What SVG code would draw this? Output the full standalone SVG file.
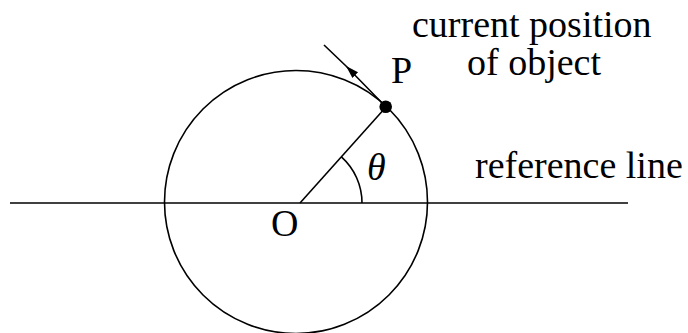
<svg xmlns="http://www.w3.org/2000/svg" width="688" height="333" viewBox="0 0 688 333">
  <style>
    .ln { fill: none; stroke: #000; stroke-width: 1.6; }
    .lbl { font-family: "Liberation Serif", "Times New Roman", serif; font-size: 38px; fill: #000; }
    .it { font-style: italic; }
  </style>
  <defs>
    <marker id="arr" markerUnits="userSpaceOnUse" markerWidth="14" markerHeight="10" refX="13" refY="4" orient="auto">
      <path d="M0,0 L13,4 L0,8 z" fill="#000"/>
    </marker>
  </defs>
  <rect width="688" height="333" fill="#fff"/>
  <g id="circle">
    <circle class="ln" cx="296" cy="202" r="131.5"/>
  </g>
  <g id="connectors">
    <line id="reference-line" class="ln" x1="10" y1="203" x2="628" y2="203"/>
    <line id="radius" class="ln" x1="300" y1="203" x2="386" y2="107"/>
    <path id="angle-arc" class="ln" d="M362,203 A62,62 0 0 0 341.4,156.8"/>
    <path id="tangent" class="ln" d="M386,107 L346,66 L324,45" marker-mid="url(#arr)"/>
  </g>
  <g id="point-P">
    <circle cx="385.7" cy="106.7" r="6.3" fill="#000"/>
    <text class="lbl" x="391" y="83">P</text>
  </g>
  <g id="point-O">
    <text class="lbl" x="271" y="236">O</text>
  </g>
  <g id="theta">
    <text class="lbl it" x="367" y="180">θ</text>
  </g>
  <g id="label-object">
    <text class="lbl" x="412" y="37">current position</text>
    <text class="lbl" x="467" y="75">of object</text>
  </g>
  <g id="label-reference">
    <text class="lbl" x="475" y="178">reference line</text>
  </g>
</svg>
